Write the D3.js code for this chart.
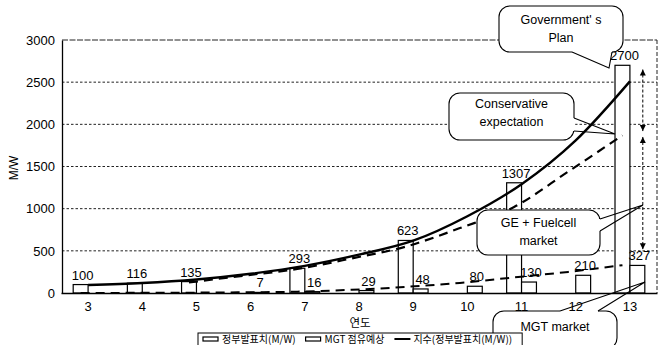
<!DOCTYPE html>
<html><head><meta charset="utf-8">
<script src="https://cdn.jsdelivr.net/npm/d3@7"></script>
<style>body{margin:0;background:#fff} svg{display:block}</style>
</head><body><svg id="c" width="662" height="345"></svg>
<script>
const categories = ["3","4","5","6","7","8","9","10","11","12","13"];
const govValues = [100,116,135,null,293,null,623,null,1307,null,2700];
const mgtValues = [null,null,null,7,16,29,48,80,130,210,327];
const trendValues = [95,118,160,228,322,455,620,910,1290,1810,2510];
const conservativeValues = [null,null,125,205,285,410,550,770,1020,1440,1870];
const mgtExpectValues = [0,2,4,8,16,38,72,120,185,250,330];
const yTicks = [0,500,1000,1500,2000,2500,3000];
const seriesNames = ["정부발표치(M/W)","MGT 점유예상","지수(정부발표치(M/W))"];
const xTitle = "연도", yTitle = "M/W";
const calloutTexts = [["Government' s","Plan"],["Conservative","expectation"],["GE + Fuelcell","market"],["MGT market"]];
const arrowValues = [[2650,1920],[1850,520]];

// layout (not data)
const calloutLayout = [
  {box:[499,6,124,46], tail:[[572,52],[609,68],[612,52]], ty:29},
  {box:[449,93,125,47], tail:[[574,118],[615,134],[574,131]], ty:113},
  {box:[477,210,123,45], tail:[[600,219],[643,205],[600,231]], ty:232},
  {box:[493,311,124,38], tail:[[560,311],[645,282],[598,311]], ty:327}
];

const FONT = "'Liberation Sans', Arial, sans-serif";
const KFONT = "'Noto Sans CJK KR', 'Liberation Sans', sans-serif";
const svg = d3.select("#c");

const x = d3.scaleBand().domain(categories).range([61,657]).paddingInner(0.45).paddingOuter(0.225);
const xs = d3.scaleBand().domain(["gov","mgt"]).range([0,x.bandwidth()]);
const y = d3.scaleLinear().domain([0,3000]).range([293,40]);

// grid
svg.append("g").selectAll("line").data(yTicks.filter(v=>v>0)).join("line")
  .attr("x1",62).attr("x2",657).attr("y1",d=>y(d)).attr("y2",d=>y(d))
  .attr("stroke","#222").attr("stroke-width",1)
  .attr("stroke-dasharray",d=>d===3000?"6,1.5":"2.5,2");
svg.append("line").attr("x1",657).attr("x2",657).attr("y1",y(3000)).attr("y2",y(0))
  .attr("stroke","#222").attr("stroke-dasharray","4,2");

// axes
const gy = svg.append("g").attr("transform","translate(62,0)")
  .call(d3.axisLeft(y).tickValues(yTicks).tickSize(0).tickPadding(7).tickFormat(d3.format("d")));
gy.select(".domain").attr("stroke","#000").attr("stroke-width",1.3);
gy.selectAll("text").attr("font-family",FONT).attr("font-size",13).attr("fill","#000");

// bars
const rows = categories.map((c,i)=>({c,gov:govValues[i],mgt:mgtValues[i],trend:trendValues[i],cons:conservativeValues[i],me:mgtExpectValues[i]}));
const barG = svg.append("g");
["gov","mgt"].forEach(k=>{
  const d = rows.filter(r=>r[k]!=null);
  barG.selectAll("rect."+k).data(d).join("rect").attr("class",k)
    .attr("x",r=>x(r.c)+xs(k)).attr("width",xs.bandwidth())
    .attr("y",r=>y(r[k])).attr("height",r=>y(0)-y(r[k]))
    .attr("fill","#fff").attr("stroke","#000").attr("stroke-width",1.2);
});

// lines
const cx = r=>x(r.c)+x.bandwidth()/2;
const gx = r=>x(r.c)+xs("gov")+xs.bandwidth()/2;
svg.append("path").datum(rows).attr("fill","none").attr("stroke","#000").attr("stroke-width",2.4)
  .attr("d",d3.line().x(cx).y(r=>y(r.trend)).curve(d3.curveMonotoneX));
svg.append("path").datum(rows.filter(r=>r.cons!=null)).attr("fill","none").attr("stroke","#000").attr("stroke-width",2.2)
  .attr("stroke-dasharray","9,6")
  .attr("d",d3.line().x(gx).y(r=>y(r.cons)).curve(d3.curveMonotoneX));
svg.append("path").datum(rows).attr("fill","none").attr("stroke","#000").attr("stroke-width",2)
  .attr("stroke-dasharray","9,6")
  .attr("d",d3.line().x(gx).y(r=>y(r.me)).curve(d3.curveMonotoneX));

// value labels
["gov","mgt"].forEach(k=>{
  barG.selectAll("text."+k).data(rows.filter(r=>r[k]!=null)).join("text").attr("class",k)
    .attr("x",r=>x(r.c)+xs(k)+xs.bandwidth()/2+2).attr("y",r=>y(r[k])-5)
    .attr("text-anchor","middle").attr("font-family",FONT).attr("font-size",13).attr("fill","#000")
    .text(r=>r[k]);
});

// titles
svg.append("text").attr("x",360).attr("y",327).attr("text-anchor","middle")
  .attr("font-family",KFONT).attr("font-size",11.5).text(xTitle);
svg.append("text").attr("transform","translate(18,168) rotate(-90)").attr("text-anchor","middle")
  .attr("font-family",FONT).attr("font-size",12).text(yTitle);

// arrow annotation
const ax = x("13")+x.bandwidth()-2;
const ag = svg.append("g");
function head(yy, up){
  const s = up?1:-1;
  ag.append("path").attr("d",`M${ax},${yy} L${ax-3},${yy+6*s} L${ax+3},${yy+6*s} Z`).attr("fill","#000");
}
arrowValues.forEach(([a,b])=>{
  ag.append("line").attr("x1",ax).attr("x2",ax).attr("y1",y(a)).attr("y2",y(b))
    .attr("stroke","#000").attr("stroke-width",1).attr("stroke-dasharray","3,2");
  head(y(a),true); head(y(b),false);
});

// callouts
calloutLayout.forEach((L,i)=>{
  const g = svg.append("g");
  const [bx,by,bw,bh] = L.box;
  g.append("rect").attr("x",bx).attr("y",by).attr("width",bw).attr("height",bh).attr("rx",11)
    .attr("fill","#fff").attr("stroke","#000").attr("stroke-width",1.1);
  const t = L.tail;
  g.append("line").attr("x1",t[0][0]).attr("y1",t[0][1]).attr("x2",t[2][0]).attr("y2",t[2][1])
    .attr("stroke","#fff").attr("stroke-width",2.4);
  g.append("path").attr("d",`M${t[0][0]},${t[0][1]} L${t[1][0]},${t[1][1]} L${t[2][0]},${t[2][1]}`)
    .attr("fill","none").attr("stroke","#000").attr("stroke-width",1.1);
  const lines = calloutTexts[i];
  const lh = 18;
  lines.forEach((s,j)=>{
    g.append("text").attr("x",bx+bw/2).attr("y",L.ty+(j-(lines.length-1)/2)*lh)
      .attr("dy","0.35em").attr("text-anchor","middle").attr("font-family",FONT).attr("font-size",12.5)
      .text(s);
  });
});

// x axis (drawn over the callouts so the "12" label stays visible)
const gx0 = svg.append("g").attr("transform","translate(0,293)")
  .call(d3.axisBottom(x).tickSize(0).tickPadding(9));
gx0.select(".domain").attr("stroke","#000").attr("stroke-width",1.6);
gx0.selectAll("text").attr("font-family",FONT).attr("font-size",13).attr("fill","#000");

// legend
const lg = svg.append("g").attr("transform","translate(198,333)");
const lgBox = lg.append("rect").attr("x",0).attr("y",0).attr("height",20).attr("fill","#fff")
  .attr("stroke","#000").attr("stroke-width",1);
let cur = 5;
seriesNames.forEach((name,i)=>{
  if(i<2){
    lg.append("rect").attr("x",cur).attr("y",4).attr("width",15).attr("height",4)
      .attr("fill","#fff").attr("stroke","#000").attr("stroke-width",1.2);
  } else {
    lg.append("line").attr("x1",cur).attr("x2",cur+16).attr("y1",6).attr("y2",6)
      .attr("stroke","#000").attr("stroke-width",2);
  }
  cur += 19;
  const t = lg.append("text").attr("x",cur).attr("y",10).attr("font-family",KFONT).attr("font-size",10).text(name);
  cur += t.node().getComputedTextLength() + 10;
});
lgBox.attr("width",cur);
</script></body></html>
